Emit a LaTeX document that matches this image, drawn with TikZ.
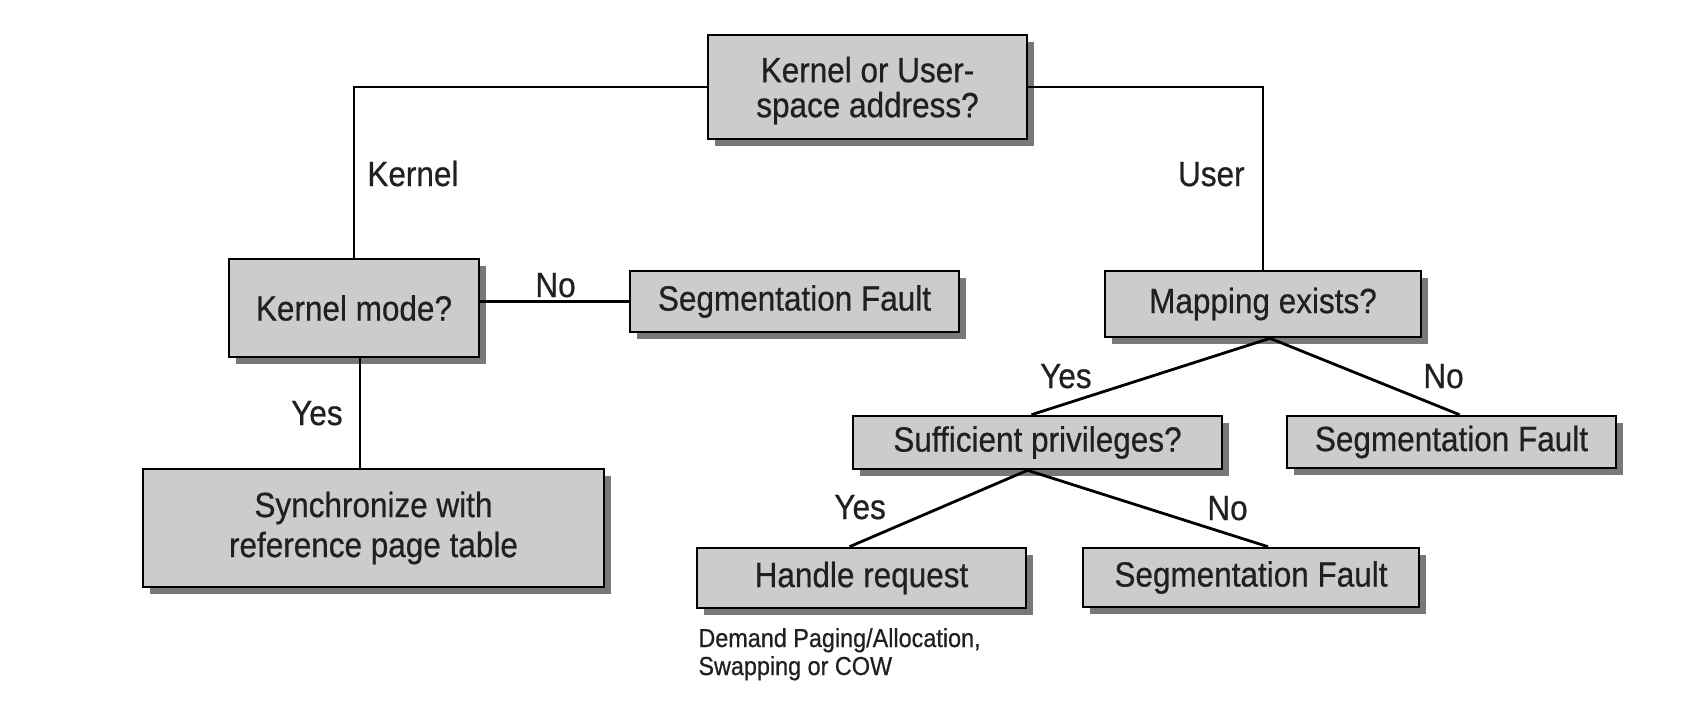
\documentclass[tikz,border=0pt]{standalone}
\usepackage{fontspec}
\setmainfont{Liberation Sans}[FakeStretch=0.9, FakeBold=0.6]
\usepackage{tikz}
\usetikzlibrary{shadows,positioning}
\definecolor{boxgray}{gray}{0.8}
\definecolor{shadegray}{gray}{0.47}
\definecolor{inkblack}{RGB}{35,31,32}
\tikzset{
  box/.style={draw, fill=boxgray, line width=1.3pt, inner sep=0pt, align=center,
    font=\fontsize{17.5}{17.5}\selectfont,
    drop shadow={shadow xshift=3.5pt, shadow yshift=-3.5pt, fill=shadegray, opacity=1}},
  lbl/.style={inner sep=0pt, font=\fontsize{17.5}{20}\selectfont},
  wire/.style={line width=1.4pt}
}
\begin{document}
\begin{tikzpicture}[x=0.5pt, y=-0.5pt, text=inkblack]
\useasboundingbox (0,0) rectangle (1696,702);

	\node (Q1)[box, minimum width=159.5pt, minimum height=52pt, text depth=0pt] at (867.5,87) {Kernel or User-\\space address?};
	\node (Q2)[box, minimum width=125pt, minimum height=49pt] at (354,308) {Kernel mode?};
	\node (S1)[box, minimum width=164.5pt, minimum height=30.5pt] at (794.5,301.5) {Segmentation Fault};
	\node (R1)[box, minimum width=230.5pt, minimum height=59pt, font=\fontsize{17.5}{20}\selectfont] at (373.5,528) {Synchronize with\\reference page table};
	\node (Q3)[box, minimum width=158pt, minimum height=33pt] at (1263,304) {Mapping exists?};
	\node (Q4)[box, minimum width=184.5pt, minimum height=26.5pt] at (1037.5,442.5) {Sufficient privileges?};
	\node (S2)[box, minimum width=164.5pt, minimum height=26pt] at (1451.5,442) {Segmentation Fault};
	\node (R2)[box, minimum width=164.5pt, minimum height=30pt] at (861.5,578) {Handle request};
	\node (S3)[box, minimum width=168pt, minimum height=29.5pt] at (1251,577.5) {Segmentation Fault};

	% base of a two-line node is the baseline of its last line
	\node (N1)[inner sep=0pt, anchor=base west, align=left, font=\fontsize{13}{14}\selectfont] at (698,675) {Demand Paging/Allocation,\\Swapping or COW};

	\draw [wire] (Q1.west) -| (Q2.north);
	\draw [wire] (Q1.east) -| (Q3.north);
	\draw [wire] (Q2.east |- S1.west) -- (S1.west);
	\draw [wire] ([xshift=3pt]Q2.south) -- ([xshift=3pt]Q2.south |- R1.north);
	\draw [wire] ([xshift=3.5pt]Q3.south) -- ([xshift=-3pt]Q4.north);
	\draw [wire] ([xshift=3.5pt]Q3.south) -- ([xshift=4pt]S2.north);
	\draw [wire] ([xshift=-5pt]Q4.south) -- ([xshift=-6pt]R2.north);
	\draw [wire] ([xshift=-5pt]Q4.south) -- ([xshift=8.5pt]S3.north);

	\node (L1)[lbl, anchor=base west] at (367,186) {Kernel};
	\node (L2)[lbl, anchor=base east] at (1245,186) {User};
	\node (L3)[lbl, anchor=base west] at (535,297) {No};
	\node (L4)[lbl, anchor=base east] at (343,425) {Yes};
	\node (L5)[lbl, anchor=base east] at (1092,388) {Yes};
	\node (L6)[lbl, anchor=base west] at (1423,388) {No};
	\node (L7)[lbl, anchor=base west] at (834,519) {Yes};
	\node (L8)[lbl, anchor=base west] at (1207,520) {No};

\end{tikzpicture}
\end{document}
